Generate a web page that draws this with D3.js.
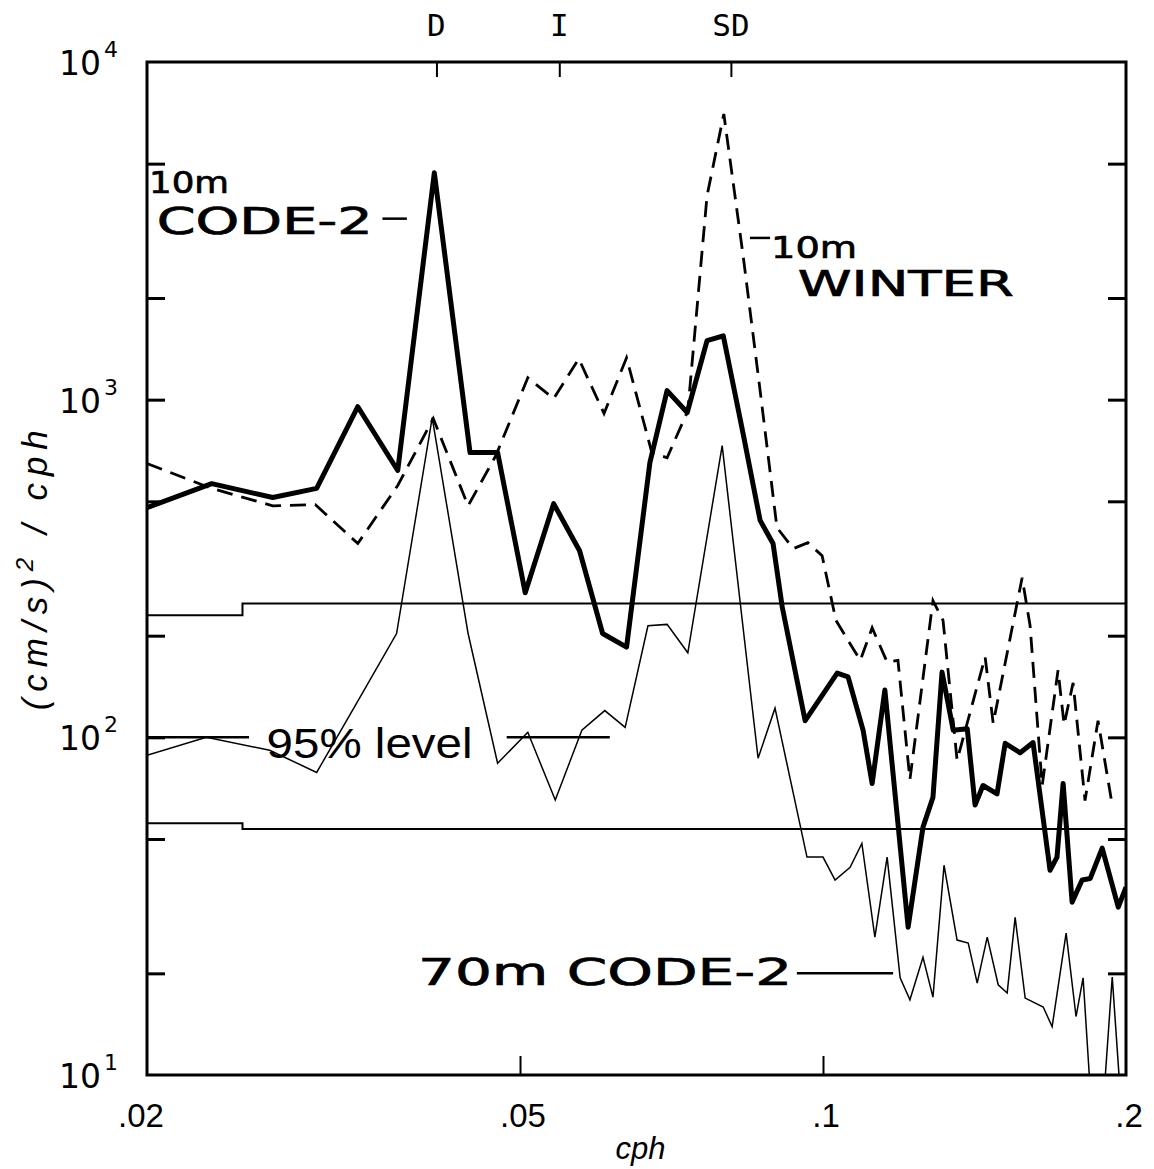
<!DOCTYPE html>
<html>
<head>
<meta charset="utf-8">
<script src="https://cdn.jsdelivr.net/npm/d3@7"></script>
<style>
  body { margin: 0; background: #fff; }
  text { fill: #000; }
</style>
</head>
<body>
<svg></svg>
<script>
// spectra: [frequency (cph), energy (cm/s)^2/cph]
const code2_10m = [[0.0213,479],[0.0247,564],[0.0284,513],[0.0314,546],[0.0345,953],[0.0378,617],[0.0411,4700],[0.0446,697],[0.0475,697],[0.0506,268],[0.0540,492],[0.0573,357],[0.0604,203],[0.0638,185],[0.0673,651],[0.0700,1064],[0.0733,916],[0.0767,1496],[0.0796,1546],[0.0833,793],[0.0866,439],[0.0892,375],[0.0911,243],[0.0960,112],[0.1033,155],[0.1059,151],[0.1096,105],[0.1119,73],[0.1152,138],[0.1215,27.4],[0.1257,54.2],[0.1286,66.4],[0.1313,156],[0.1347,105],[0.1391,106],[0.1416,63],[0.1442,72],[0.1489,68],[0.1517,96],[0.1570,90],[0.1617,96.5],[0.1681,40.4],[0.1708,44.2],[0.1732,73],[0.1768,32.5],[0.1809,37.8],[0.1843,38.2],[0.1894,47],[0.1965,31.4],[0.2,36]];

const winter_10m = [[0.0213,647],[0.0247,546],[0.0284,485],[0.0313,489],[0.0345,375],[0.0378,557],[0.0410,879],[0.0444,485],[0.0473,682],[0.0509,1161],[0.0540,1007],[0.0572,1321],[0.0606,910],[0.0638,1330],[0.0676,697],[0.0700,673],[0.0734,927],[0.0767,4018],[0.0797,7015],[0.0833,2667],[0.0866,1064],[0.0900,418],[0.0934,362],[0.0966,377],[0.0998,345],[0.1030,222],[0.1089,169],[0.1119,211],[0.1158,167],[0.1187,169],[0.1220,75],[0.1286,254],[0.1316,222],[0.1359,85.5],[0.1449,173],[0.1476,110],[0.1577,297],[0.1606,214],[0.1651,72],[0.1712,158],[0.1736,109],[0.1772,145],[0.1821,65],[0.1876,112],[0.1938,63]];

const code2_70m = [[0.0213,88.5],[0.0244,100],[0.0282,91.6],[0.0314,78.7],[0.0345,128],[0.0377,203],[0.0409,885],[0.0444,203],[0.0475,83.8],[0.0509,103.5],[0.0542,65.2],[0.0576,105],[0.0607,120],[0.0636,107],[0.0670,214],[0.0700,216],[0.0734,178],[0.0794,731],[0.0862,86.7],[0.0896,122],[0.0964,44.2],[0.1,44.2],[0.1028,37.8],[0.1064,41.2],[0.1093,48.5],[0.1126,25.6],[0.1158,44.2],[0.1193,19.4],[0.1220,16.7],[0.1257,22.3],[0.1286,17.0],[0.1319,41.8],[0.1359,25.1],[0.1394,24.6],[0.1423,18.7],[0.1456,25.6],[0.1493,18.5],[0.1524,17.5],[0.1552,29.3],[0.1588,16.9],[0.1655,15.9],[0.1689,13.9],[0.1744,26.3],[0.1784,14.9],[0.1813,19.4],[0.1843,9],[0.1903,9],[0.1938,19.5],[0.1973,9]];

// 95% confidence limits (left part, right part) and where they step
const level95Upper = [230, 249];
const level95Lower = [55.7, 53.5];
const level95Step = 0.0265;

// axes
const xTickValues = [0.0213, 0.05, 0.1, 0.2];
const xTickLabels = [".02", ".05", ".1", ".2"];
const xInnerTicks = [0.05, 0.1];
const yInnerTicks = [20, 50, 100, 200, 500, 1000, 2000, 5000];
const yLabelExps = [1, 2, 3, 4];
const topTickValues = [0.0413, 0.0547, 0.081];
const topTickLabels = ["D", "I", "SD"];

const W = 1154, H = 1169;
const plot = { l: 147, r: 1126, t: 62, b: 1075 };

const x = d3.scaleLog().domain([0.0213, 0.2]).range([plot.l, plot.r]);
const y = d3.scaleLog().domain([10, 10000]).range([plot.b, plot.t]);

const svg = d3.select("svg").attr("width", W).attr("height", H);
svg.append("rect").attr("width", W).attr("height", H).attr("fill", "#fff");

svg.append("defs").append("clipPath").attr("id", "clip")
	.append("rect")
	.attr("x", plot.l).attr("y", plot.t)
	.attr("width", plot.r - plot.l).attr("height", plot.b - plot.t);

const line = d3.line().x(d => x(d[0])).y(d => y(d[1]));

const g = svg.append("g").attr("clip-path", "url(#clip)");

// 95% level step lines
const upper = [[x.domain()[0], level95Upper[0]], [level95Step, level95Upper[0]], [level95Step, level95Upper[1]], [x.domain()[1], level95Upper[1]]];
const lower = [[x.domain()[0], level95Lower[0]], [level95Step, level95Lower[0]], [level95Step, level95Lower[1]], [x.domain()[1], level95Lower[1]]];
[upper, lower].forEach(d => {
	g.append("path").datum(d).attr("d", line)
		.attr("fill", "none").attr("stroke", "#000").attr("stroke-width", 2);
});

g.append("path").datum(code2_70m).attr("d", line)
	.attr("fill", "none").attr("stroke", "#000").attr("stroke-width", 1.5)
	.attr("stroke-linejoin", "miter");

g.append("path").datum(winter_10m).attr("d", line)
	.attr("fill", "none").attr("stroke", "#000").attr("stroke-width", 2.8)
	.attr("stroke-dasharray", "16,9");

g.append("path").datum(code2_10m).attr("d", line)
	.attr("fill", "none").attr("stroke", "#000").attr("stroke-width", 5)
	.attr("stroke-linejoin", "round");

// ticks (inward)
svg.append("g").attr("transform", `translate(${plot.l},0)`)
	.call(d3.axisLeft(y).tickValues(yInnerTicks).tickSize(-18).tickFormat(""))
	.call(s => s.select(".domain").remove())
	.selectAll("line").attr("stroke-width", 3);
svg.append("g").attr("transform", `translate(${plot.r},0)`)
	.call(d3.axisRight(y).tickValues(yInnerTicks).tickSize(-18).tickFormat(""))
	.call(s => s.select(".domain").remove())
	.selectAll("line").attr("stroke-width", 3);
svg.append("g").attr("transform", `translate(0,${plot.b})`)
	.call(d3.axisBottom(x).tickValues(xInnerTicks).tickSize(-19).tickFormat(""))
	.call(s => s.select(".domain").remove())
	.selectAll("line").attr("stroke-width", 2);
svg.append("g").attr("transform", `translate(0,${plot.t})`)
	.call(d3.axisTop(x).tickValues(topTickValues).tickSize(-15).tickFormat(""))
	.call(s => s.select(".domain").remove())
	.selectAll("line").attr("stroke-width", 2);

// frame
svg.append("rect")
	.attr("x", plot.l).attr("y", plot.t)
	.attr("width", plot.r - plot.l).attr("height", plot.b - plot.t)
	.attr("fill", "none").attr("stroke", "#000").attr("stroke-width", 3);

// tick labels
svg.selectAll(".xlab").data(xTickValues).join("text")
	.attr("x", (d, i) => x(d) + (i === 0 ? -6 : 3)).attr("y", plot.b + 52)
	.attr("text-anchor", "middle")
	.style("font", "33px 'Liberation Sans', Arial, sans-serif")
	.text((d, i) => xTickLabels[i]);

svg.selectAll(".toplab").data(topTickValues).join("text")
	.attr("x", d => x(d)).attr("y", 36)
	.attr("text-anchor", "middle")
	.style("font", "31px 'DejaVu Sans Mono', monospace")
	.text((d, i) => topTickLabels[i]);

const yl = svg.append("g").style("font-family", "'DejaVu Sans', sans-serif");
yLabelExps.forEach(e => {
	const yy = y(Math.pow(10, e));
	yl.append("text").attr("x", 101).attr("y", yy + 13)
		.attr("text-anchor", "end").style("font-size", "33px").text("10");
	yl.append("text").attr("x", 104).attr("y", yy - 5)
		.style("font-size", "22px").text(e);
});

// axis titles
svg.append("text")
	.attr("x", (plot.l + plot.r) / 2 + 4).attr("y", 1159)
	.attr("text-anchor", "middle")
	.style("font", "italic 31px 'Liberation Sans', Arial, sans-serif")
	.text("cph");

svg.append("text")
	.attr("transform", `translate(47, ${y(320)}) rotate(-90)`)
	.attr("text-anchor", "middle")
	.style("font", "italic 35px 'Liberation Sans', Arial, sans-serif")
	.style("letter-spacing", "7px")
	.html("(cm/s)<tspan dy='-14' font-size='24'>2</tspan><tspan dy='14'> / cph</tspan>");

// annotations: [text, freq, value at baseline, font size, text width]
const letterLabels = [
	["10m", 0.0214, 4100, 30, 80],
	["CODE-2", 0.02178, 3097, 37, 216],
	["10m", 0.0888, 2630, 31, 86],
	["WINTER", 0.0944, 2031, 35, 216],
	["70m CODE-2", 0.0396, 18.5, 38, 374]
];
letterLabels.forEach(d => {
	svg.append("text")
		.attr("x", x(d[1])).attr("y", y(d[2]))
		.attr("textLength", d[4]).attr("lengthAdjust", "spacingAndGlyphs")
		.style("font", `${d[3]}px 'DejaVu Sans', sans-serif`)
		.attr("stroke", "#000").attr("stroke-width", 0.7)
		.text(d[0]);
});

svg.append("text")
	.attr("x", x(0.0280)).attr("y", y(86.7))
	.attr("textLength", 206).attr("lengthAdjust", "spacingAndGlyphs")
	.style("font", "43px 'Liberation Sans', Arial, sans-serif")
	.text("95% level");

// label leaders: [[f0, f1], value]
const leaders = [
	[[0.0213, 0.0269], 100],
	[[0.0485, 0.0614], 100],
	[[0.0365, 0.0386], 3436],
	[[0.0846, 0.0886], 3013],
	[[0.0942, 0.1174], 20]
];
leaders.forEach(d => {
	svg.append("line")
		.attr("x1", x(d[0][0])).attr("x2", x(d[0][1]))
		.attr("y1", y(d[1])).attr("y2", y(d[1]))
		.attr("stroke", "#000").attr("stroke-width", 2.5);
});
</script>
</body>
</html>
